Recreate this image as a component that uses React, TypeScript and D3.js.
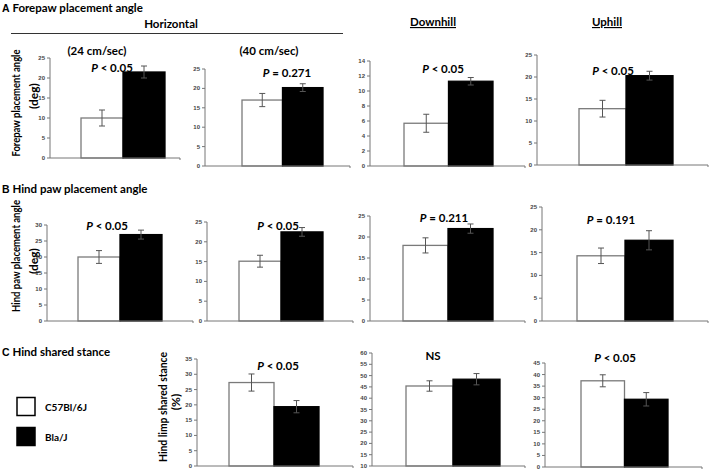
import React from "react";
import * as d3 from "d3";

const groups = ["C57Bl/6J", "Bla/J"];

// A: forepaw placement angle (deg)
const forepawMeans = [[10, 21.5], [17, 20.2], [5.7, 11.3], [12.8, 20.3]];
const forepawErrors = [[2, 1.5], [1.7, 1], [1.2, 0.5], [1.9, 1]];
const forepawP = ["< 0.05", "= 0.271", "< 0.05", "< 0.05"];
const forepawMax = [25, 25, 14, 25];
const forepawStep = [5, 5, 2, 5];

// B: hind paw placement angle (deg)
const hindMeans = [[20, 27], [15.1, 22.5], [18, 22], [14.3, 17.7]];
const hindErrors = [[2, 1.4], [1.5, 1.1], [1.8, 1.1], [1.7, 2.1]];
const hindP = ["< 0.05", "< 0.05", "= 0.211", "= 0.191"];
const hindMax = [30, 25, 25, 25];

// C: hind limb shared stance (%)
const stanceMeans = [[27.3, 19.4], [45.4, 48.4], [37.3, 29.3]];
const stanceErrors = [[2.8, 2], [2.3, 2.5], [2.6, 2.9]];
const stanceP = ["< 0.05", "NS", "< 0.05"];
const stanceMin = [0, 10, 0];
const stanceMax = [35, 60, 45];

const conditions = ["Horizontal", "Downhill", "Uphill"];
const speeds = ["(24 cm/sec)", "(40 cm/sec)"];

type Layout = { left: number; right: number; top: number; bottom: number; barL: number; barR: number; pX: number; pY: number };

const layoutA: Layout[] = [
  { left: 50, right: 180, top: 58, bottom: 158, barL: 81, barR: 165, pX: 112, pY: 67 },
  { left: 205, right: 350, top: 69, bottom: 166, barL: 242, barR: 323, pX: 287, pY: 72 },
  { left: 370, right: 525, top: 61, bottom: 166, barL: 404, barR: 493, pX: 443, pY: 68 },
  { left: 537, right: 708, top: 55, bottom: 165, barL: 579, barR: 673, pX: 613, pY: 70 },
];
const layoutB: Layout[] = [
  { left: 47, right: 193, top: 225, bottom: 321, barL: 78, barR: 162, pX: 107, pY: 225 },
  { left: 207, right: 353, top: 222, bottom: 321, barL: 239, barR: 323, pX: 278, pY: 225 },
  { left: 370, right: 525, top: 216, bottom: 321, barL: 403, barR: 493, pX: 444, pY: 217 },
  { left: 542, right: 708, top: 207, bottom: 321, barL: 577, barR: 673, pX: 611, pY: 219 },
];
const layoutC: Layout[] = [
  { left: 197, right: 353, top: 359, bottom: 466, barL: 229, barR: 319, pX: 278, pY: 365 },
  { left: 372, right: 525, top: 353, bottom: 466, barL: 406, barR: 500, pX: 433, pY: 355 },
  { left: 545, right: 702, top: 363, bottom: 467, barL: 581, barR: 668, pX: 615, pY: 357 },
];

const labelFont = "Lato, 'Open Sans', sans-serif";
const tickFont = "'Liberation Sans', Arial, sans-serif";

function Panel({ lay, means, errors, p, min, max, step }: { lay: Layout; means: number[]; errors: number[]; p: string; min: number; max: number; step: number }) {
  const y = d3.scaleLinear().domain([min, max]).range([lay.bottom, lay.top]);
  const x = d3.scaleBand<string>().domain(groups).range([lay.barL, lay.barR]).padding(0);
  const ticks = d3.range(min, max + step / 2, step);
  const bw = x.bandwidth();
  return (
    <g>
      {groups.map((g, i) => (
        <rect
          key={g}
          x={x(g)}
          y={y(means[i])}
          width={bw}
          height={y(min) - y(means[i])}
          fill={i === 0 ? "#fff" : "#000"}
          stroke={i === 0 ? "#7a7a7a" : "#000"}
          strokeWidth={1.3}
        />
      ))}
      {groups.map((g, i) => {
        const cx = (x(g) as number) + bw / 2;
        const hi = y(means[i] + errors[i]);
        const lo = y(means[i] - errors[i]);
        return (
          <g key={g} stroke="#555" strokeWidth={1}>
            <line x1={cx} x2={cx} y1={hi} y2={lo} />
            <line x1={cx - 3} x2={cx + 3} y1={hi} y2={hi} />
            <line x1={cx - 3} x2={cx + 3} y1={lo} y2={lo} />
          </g>
        );
      })}
      <line x1={lay.left} x2={lay.left} y1={lay.top} y2={lay.bottom} stroke="#777" strokeWidth={1} />
      <line x1={lay.left} x2={lay.right} y1={lay.bottom} y2={lay.bottom} stroke="#777" strokeWidth={1} />
      <line x1={lay.right} x2={lay.right} y1={lay.bottom} y2={lay.bottom + 2} stroke="#777" strokeWidth={1} />
      {ticks.map((t) => (
        <g key={t}>
          <line x1={lay.left - 3} x2={lay.left} y1={y(t)} y2={y(t)} stroke="#777" strokeWidth={1} />
          <text x={lay.left - 5} y={y(t)} textAnchor="end" dominantBaseline="central" fontSize={6} fontWeight="bold" fill="#444" fontFamily={tickFont}>
            {t}
          </text>
        </g>
      ))}
      <text x={lay.pX} y={lay.pY} textAnchor="middle" dominantBaseline="central" fontSize={11.5} fontWeight="bold" fontFamily={labelFont}>
        {p === "NS" ? "NS" : (
          <>
            <tspan fontStyle="italic">P</tspan> {p}
          </>
        )}
      </text>
    </g>
  );
}

function YLabel({ x1, x2, y1, y2, line1, line2, len }: { x1: number; x2: number; y1: number; y2: number; line1: string; line2: string; len: number }) {
  return (
    <g fontFamily={labelFont} fontWeight="bold" fontSize={12} textAnchor="middle">
      <text transform={`translate(${x1},${y1}) rotate(-90)`} dominantBaseline="central" textLength={len} lengthAdjust="spacingAndGlyphs">{line1}</text>
      <text transform={`translate(${x2},${y2}) rotate(-90)`} dominantBaseline="central">{line2}</text>
    </g>
  );
}

export default function App() {
  return (
    <svg width={709} height={472} style={{ position: "absolute", left: 0, top: 0, background: "#fff" }}>
      <g fontFamily={labelFont} fontWeight="bold" fontSize={11.5}>
        <text x={2} y={12}>
          <tspan fontFamily={tickFont} fontSize={10.5}>A</tspan> Forepaw placement angle
        </text>
        <text x={2} y={193}>
          <tspan fontFamily={tickFont} fontSize={10.5}>B</tspan>{"  "}Hind paw placement angle
        </text>
        <text x={2} y={356}>
          <tspan fontFamily={tickFont} fontSize={10.5}>C</tspan>{"  "}Hind shared stance
        </text>
        <text x={171} y={28} textAnchor="middle">{conditions[0]}</text>
        <text x={433} y={26} textAnchor="middle" textDecoration="underline">{conditions[1]}</text>
        <text x={607} y={26} textAnchor="middle" textDecoration="underline">{conditions[2]}</text>
        <text x={97} y={55} textAnchor="middle">{speeds[0]}</text>
        <text x={269} y={55} textAnchor="middle">{speeds[1]}</text>
      </g>
      <line x1={11} x2={343} y1={33.5} y2={33.5} stroke="#333" strokeWidth={1} />

      <YLabel x1={15} x2={33} y1={103} y2={96} line1="Forepaw placement angle" line2="(deg)" len={107} />
      <YLabel x1={15} x2={33} y1={256} y2={261} line1="Hind paw placement angle" line2="(deg)" len={112} />
      <YLabel x1={162} x2={175} y1={407} y2={402} line1="Hind limp shared stance" line2="(%)" len={110} />

      {layoutA.map((lay, i) => (
        <Panel key={"a" + i} lay={lay} means={forepawMeans[i]} errors={forepawErrors[i]} p={forepawP[i]} min={0} max={forepawMax[i]} step={forepawStep[i]} />
      ))}
      {layoutB.map((lay, i) => (
        <Panel key={"b" + i} lay={lay} means={hindMeans[i]} errors={hindErrors[i]} p={hindP[i]} min={0} max={hindMax[i]} step={5} />
      ))}
      {layoutC.map((lay, i) => (
        <Panel key={"c" + i} lay={lay} means={stanceMeans[i]} errors={stanceErrors[i]} p={stanceP[i]} min={stanceMin[i]} max={stanceMax[i]} step={5} />
      ))}

      <g fontFamily={labelFont} fontWeight="bold" fontSize={10}>
        {groups.map((g, i) => (
          <g key={g}>
            <rect x={17} y={i === 0 ? 397.5 : 427.5} width={18} height={18} fill={i === 0 ? "#fff" : "#000"} stroke="#000" strokeWidth={1.5} />
            <text x={45} y={i === 0 ? 406.5 : 436.5} dominantBaseline="central">{g}</text>
          </g>
        ))}
      </g>
    </svg>
  );
}
